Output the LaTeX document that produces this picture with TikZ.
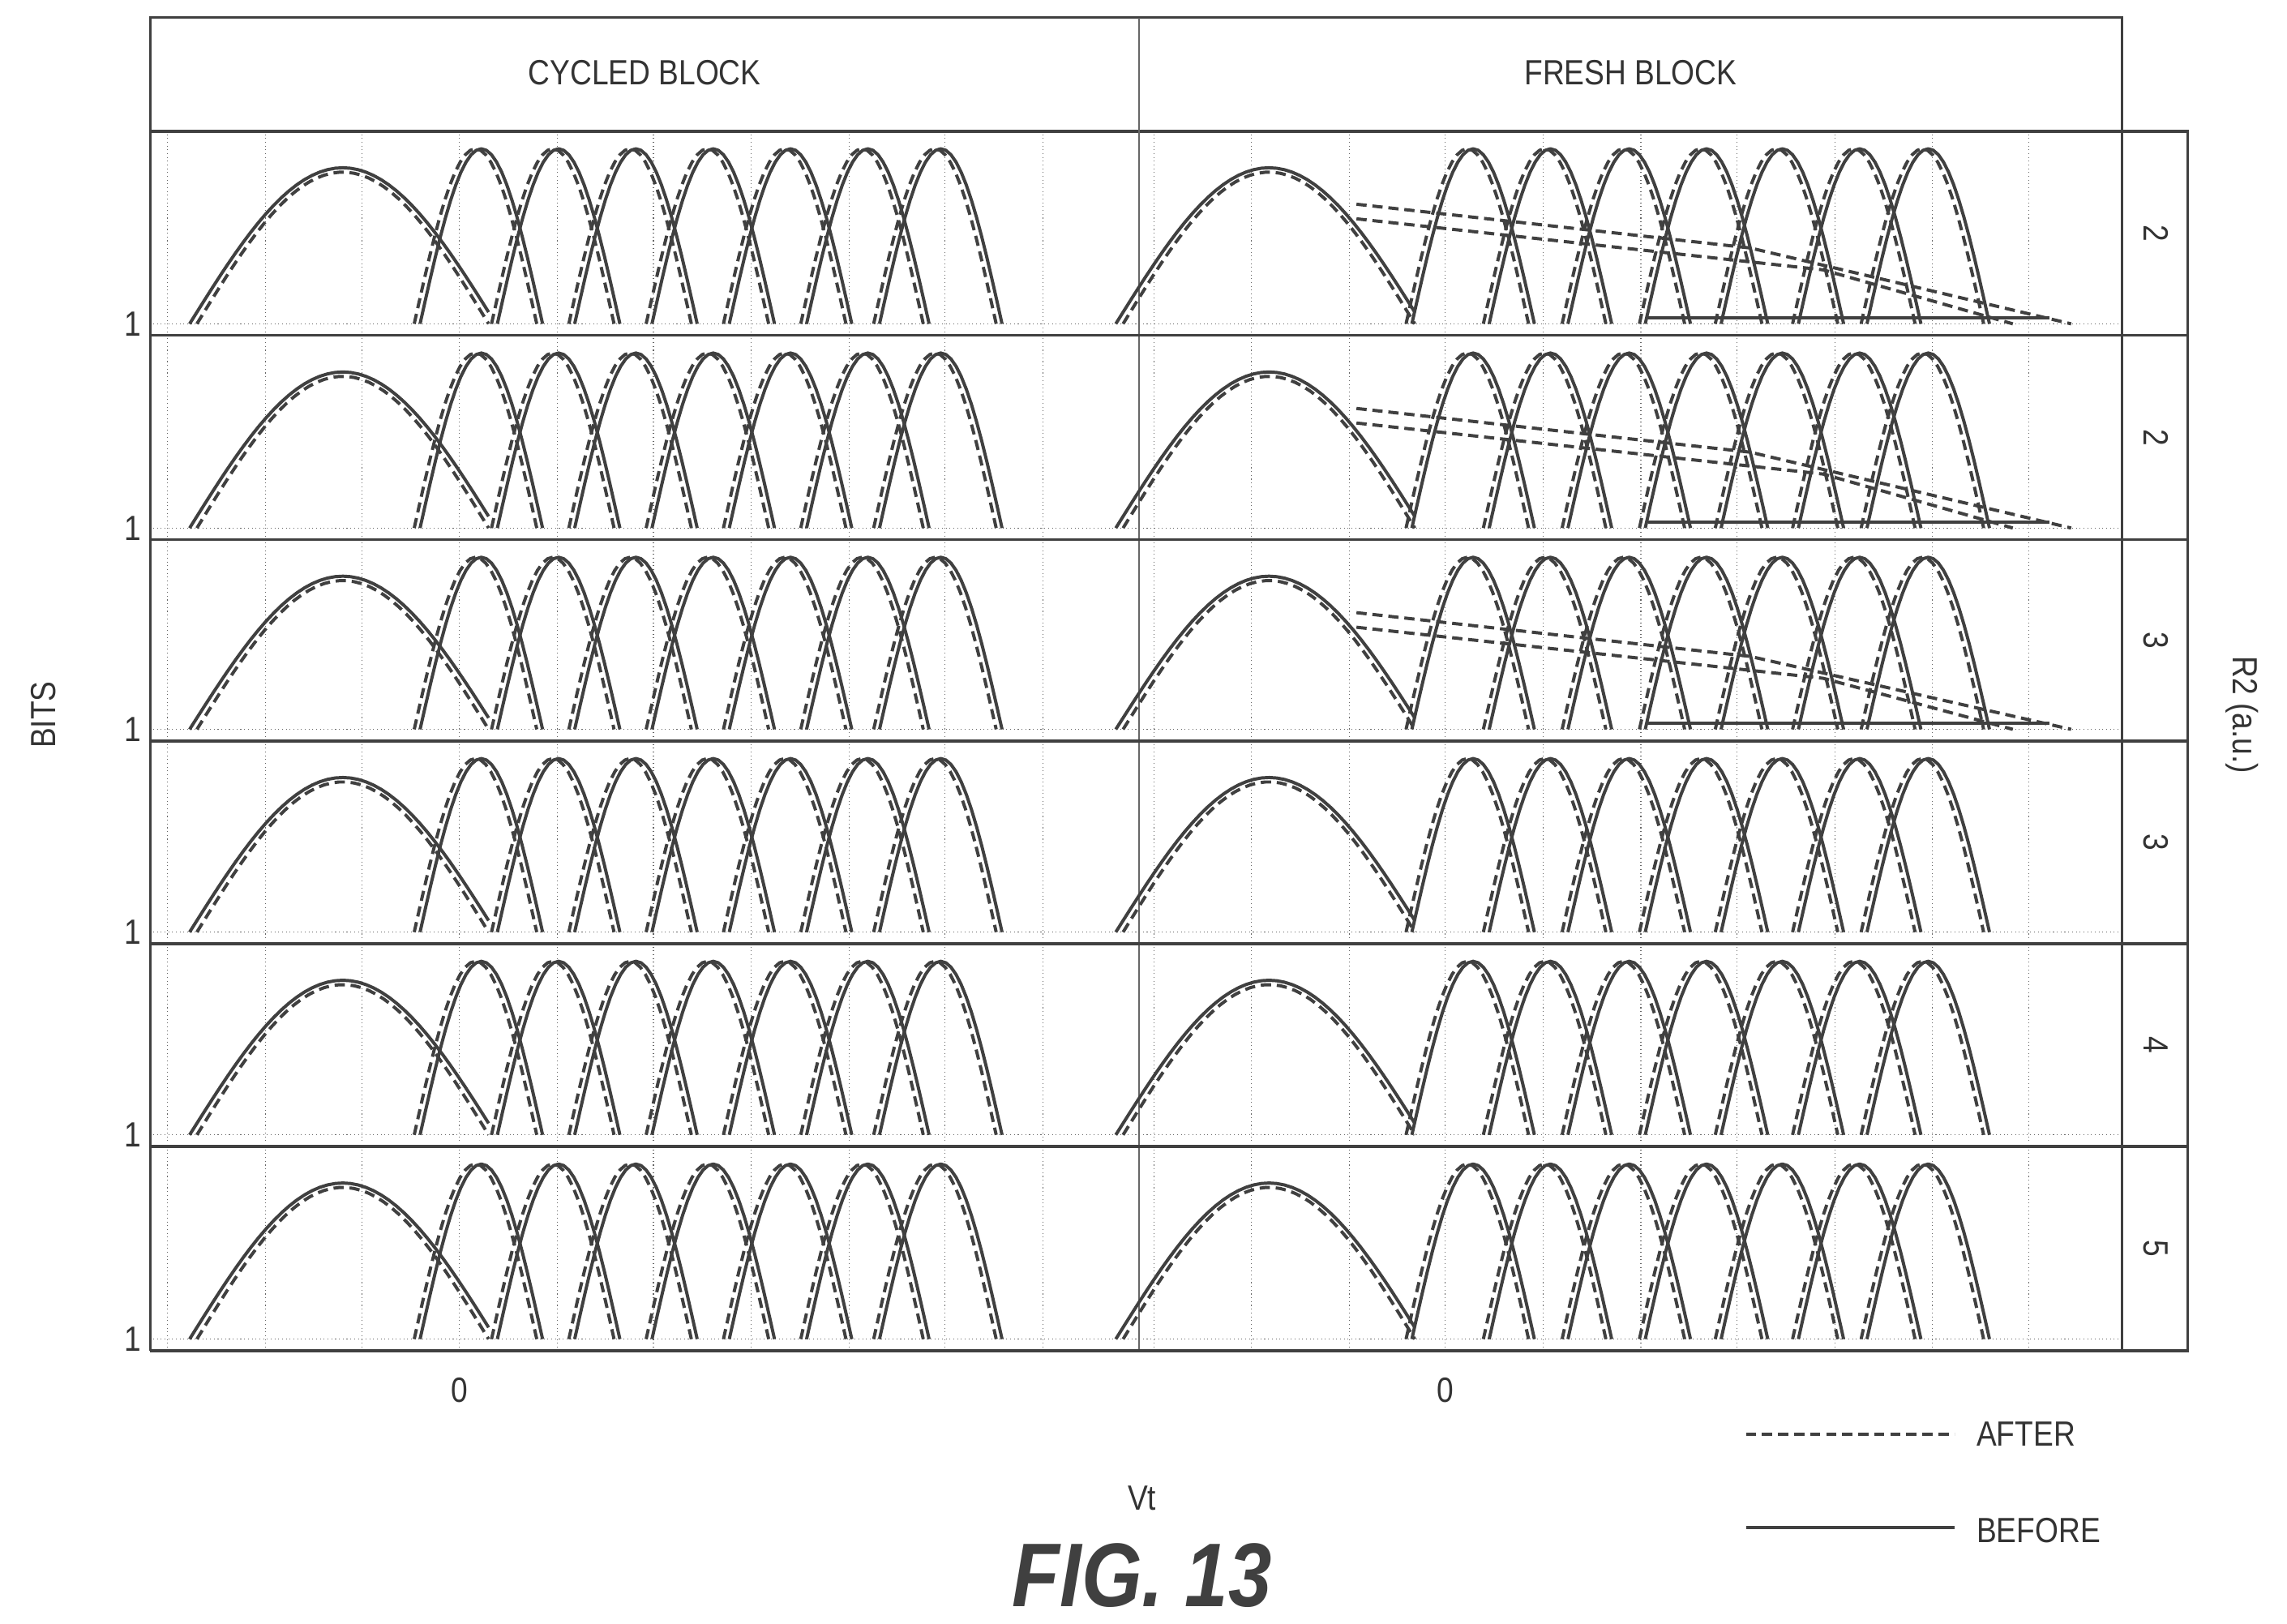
\documentclass[tikz,border=0pt]{standalone}
\usepackage{fontspec}
\setmainfont{Liberation Sans}[FakeStretch=0.86]
\begin{document}
\begin{tikzpicture}[x=1pt,y=-1pt,
  curve/.style={draw=black!75,line width=2.2pt,line join=round},
  dcurve/.style={draw=black!75,line width=2.2pt,dash pattern=on 7pt off 4pt},
  frame/.style={draw=black!75,line width=1.8pt},
  thin/.style={draw=black!60,line width=0.8pt},
  grid/.style={draw=black!60,line width=0.6pt,dotted},
  lab/.style={font=\fontsize{24}{26}\selectfont,text=black!80,inner sep=0pt}]
\useasboundingbox (0,0) rectangle (1568,1113);
% header
\draw[frame] (103,12) rectangle (1455,90);
\draw[thin] (781,12) -- (781,926);
\node[lab] (h1) at (442,50) {CYCLED BLOCK};
\node[lab] (h2) at (1118,50) {FRESH BLOCK};
% rows
\foreach \t/\b/\r/\tl [count=\i] in {90/230/2/1,230/370/2/1,370/508/3/1,508/647/3/0,647/786/4/0,786/926/5/0}{
  \pgfmathsetmacro{\base}{\b-8}
  \pgfmathsetmacro{\hn}{\base-\t-12}
  \pgfmathsetmacro{\hw}{\base-\t-25}
  \foreach \gx in {115,182,248,315,382,448,515,582,648,715,791,858,925,991,1058,1125,1191,1258,1325,1391}
    \draw[grid] (\gx,\t+2) -- (\gx,\b-2);
  \draw[grid] (105,\base) -- (1453,\base);
  \draw[frame] (103,\b) -- (1500,\b);
  \draw[frame] (1455,\t) rectangle (1500,\b);
  \node[lab,rotate=-90] (s\i) at (1478,{(\t+\b)/2}) {\r};
  \node[lab] (one\i) at (91,\base) {1};
  \foreach \off/\wc/\ns in {0/235/{330,383,436,489,542,595,645},676/870/{1010,1063,1117,1170,1222,1275,1322}}{
    \draw[curve] plot[domain={\wc-105}:{\wc+100},samples=40] (\x,{\base-\hw*cos(90*(\x-\wc)/105)});
    \draw[dcurve] plot[domain={\wc-100}:{\wc+100},samples=40] (\x,{\base-(\hw-3)*cos(90*(\x-\wc)/100)});
    \foreach \c in \ns {
      \draw[curve] plot[domain={\c-42}:{\c+42},samples=25] (\x,{\base-\hn*cos(90*(\x-\c)/42)});
      \draw[dcurve] plot[domain={\c-46}:{\c+38},samples=25] (\x,{\base-\hn*cos(90*(\x-\c+4)/42)});
    }
  }
  % tails in the fresh block
  \ifnum\tl=1
    \draw[dcurve] (930,{\t+50}) -- (1200,{\t+80}) -- (1420,\base);
    \draw[dcurve] (930,{\t+60}) -- (1250,{\t+95}) -- (1380,\base);
    \draw[curve] (1130,{\base-4}) -- (1405,{\base-4});
  \fi
}
\draw[frame] (103,90) -- (103,926);
\node[lab] (z1) at (315,953) {0};
\node[lab] (z2) at (991,953) {0};
\node[lab] (vt) at (783,1027) {Vt};
\node[lab,rotate=90] (bits) at (30,490) {BITS};
\node[lab,rotate=-90] (r2) at (1537,490) {R2 (a.u.)};
\coordinate (a1) at (1197,983); \coordinate (a2) at (1340,983);
\coordinate (b1) at (1197,1047); \coordinate (b2) at (1340,1047);
\draw[dcurve] (a1) -- (a2);
\draw[curve] (b1) -- (b2);
\node[lab,anchor=west] (after) at (1355,983) {AFTER};
\node[lab,anchor=west] (before) at (1355,1049) {BEFORE};
\node[font=\fontsize{62}{64}\selectfont\bfseries\itshape,text=black!75] (fig) at (783,1080) {FIG. 13};
\end{tikzpicture}
\end{document}
